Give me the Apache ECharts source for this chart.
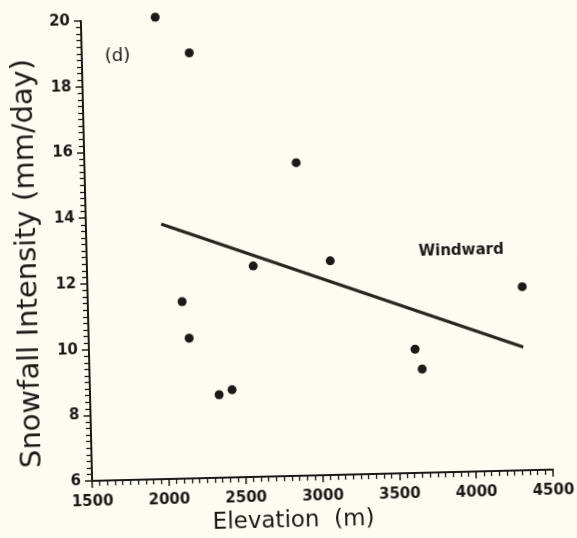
<!DOCTYPE html>
<html>
<head>
<meta charset="utf-8">
<script src="https://cdn.jsdelivr.net/npm/echarts@6/dist/echarts.min.js"></script>
<style>
  html, body { margin: 0; padding: 0; background: #fdfcf3; overflow: hidden; }
  #chart { width: 577px; height: 538px; transform: rotate(-1.4deg); transform-origin: 50% 50%; }
</style>
</head>
<body>
<div id="chart"></div>
<script>
// Station observations: elevation (m) and mean snowfall intensity (mm/day)
const elevation = [1984, 2200, 2878, 2582, 3084, 2114, 2154, 2340, 2425, 3622, 3665, 4329];
const intensity = [20.06, 18.95, 15.53, 12.42, 12.52, 11.39, 10.27, 8.53, 8.67, 9.77, 9.16, 11.59];

// Least-squares fit, drawn between its two end points
const fitElevation = [1990, 4326];
const fitIntensity = [13.76, 9.75];

const panelLabel = '(d)';
const groupLabel = 'Windward';

const ink = '#1c1a17';

const chart = echarts.init(document.getElementById('chart'));
chart.setOption({
  backgroundColor: '#fdfcf3',
  animation: false,
  grid: { left: 87, right: 29, top: 16, bottom: 58 },
  xAxis: {
    type: 'value',
    min: 1500, max: 4500, interval: 500,
    name: 'Elevation  (m)',
    nameLocation: 'middle',
    nameGap: 27,
    nameTextStyle: { color: ink, fontSize: 23, fontFamily: 'DejaVu Sans', padding: [0, 60, 0, 0] },
    axisLine: { show: true, lineStyle: { color: ink, width: 2 } },
    axisTick: { show: true, length: 7, lineStyle: { color: ink, width: 1.5 } },
    minorTick: { show: true, splitNumber: 10, length: 5, lineStyle: { color: ink, width: 1.3 } },
    splitLine: { show: false },
    axisLabel: {
      color: ink, fontSize: 15, fontWeight: 'bold', fontFamily: 'DejaVu Sans', margin: 14,
      formatter: v => String(v)
    }
  },
  yAxis: {
    type: 'value',
    min: 6, max: 20, interval: 2,
    name: 'Snowfall Intensity (mm/day)',
    nameLocation: 'middle',
    nameGap: 44,
    nameRotate: 90,
    nameTextStyle: { color: ink, fontSize: 29, fontFamily: 'DejaVu Sans', padding: [0, 22, 0, 0] },
    axisLine: { show: true, lineStyle: { color: ink, width: 2 } },
    axisTick: { show: true, length: 7, lineStyle: { color: ink, width: 1.5 } },
    minorTick: { show: true, splitNumber: 10, length: 5, lineStyle: { color: ink, width: 1.3 } },
    splitLine: { show: false },
    axisLabel: { color: ink, fontSize: 15, fontWeight: 'bold', fontFamily: 'DejaVu Sans', margin: 11 }
  },
  series: [
    {
      type: 'scatter',
      clip: false,
      data: elevation.map((e, i) => [e, intensity[i]]),
      symbol: 'circle',
      symbolSize: 9,
      itemStyle: { color: ink, opacity: 1 }
    },
    {
      type: 'line',
      data: fitElevation.map((e, i) => [e, fitIntensity[i]]),
      symbol: 'none',
      lineStyle: { color: '#2a2420', width: 3.2 }
    }
  ],
  graphic: [
    {
      type: 'text', left: 110, top: 43,
      style: { text: panelLabel, fill: ink, font: '18px "DejaVu Sans"' }
    },
    {
      type: 'text', left: 419, top: 248,
      style: { text: groupLabel, fill: ink, font: 'bold 15px "DejaVu Sans"' }
    }
  ]
});
</script>
</body>
</html>
